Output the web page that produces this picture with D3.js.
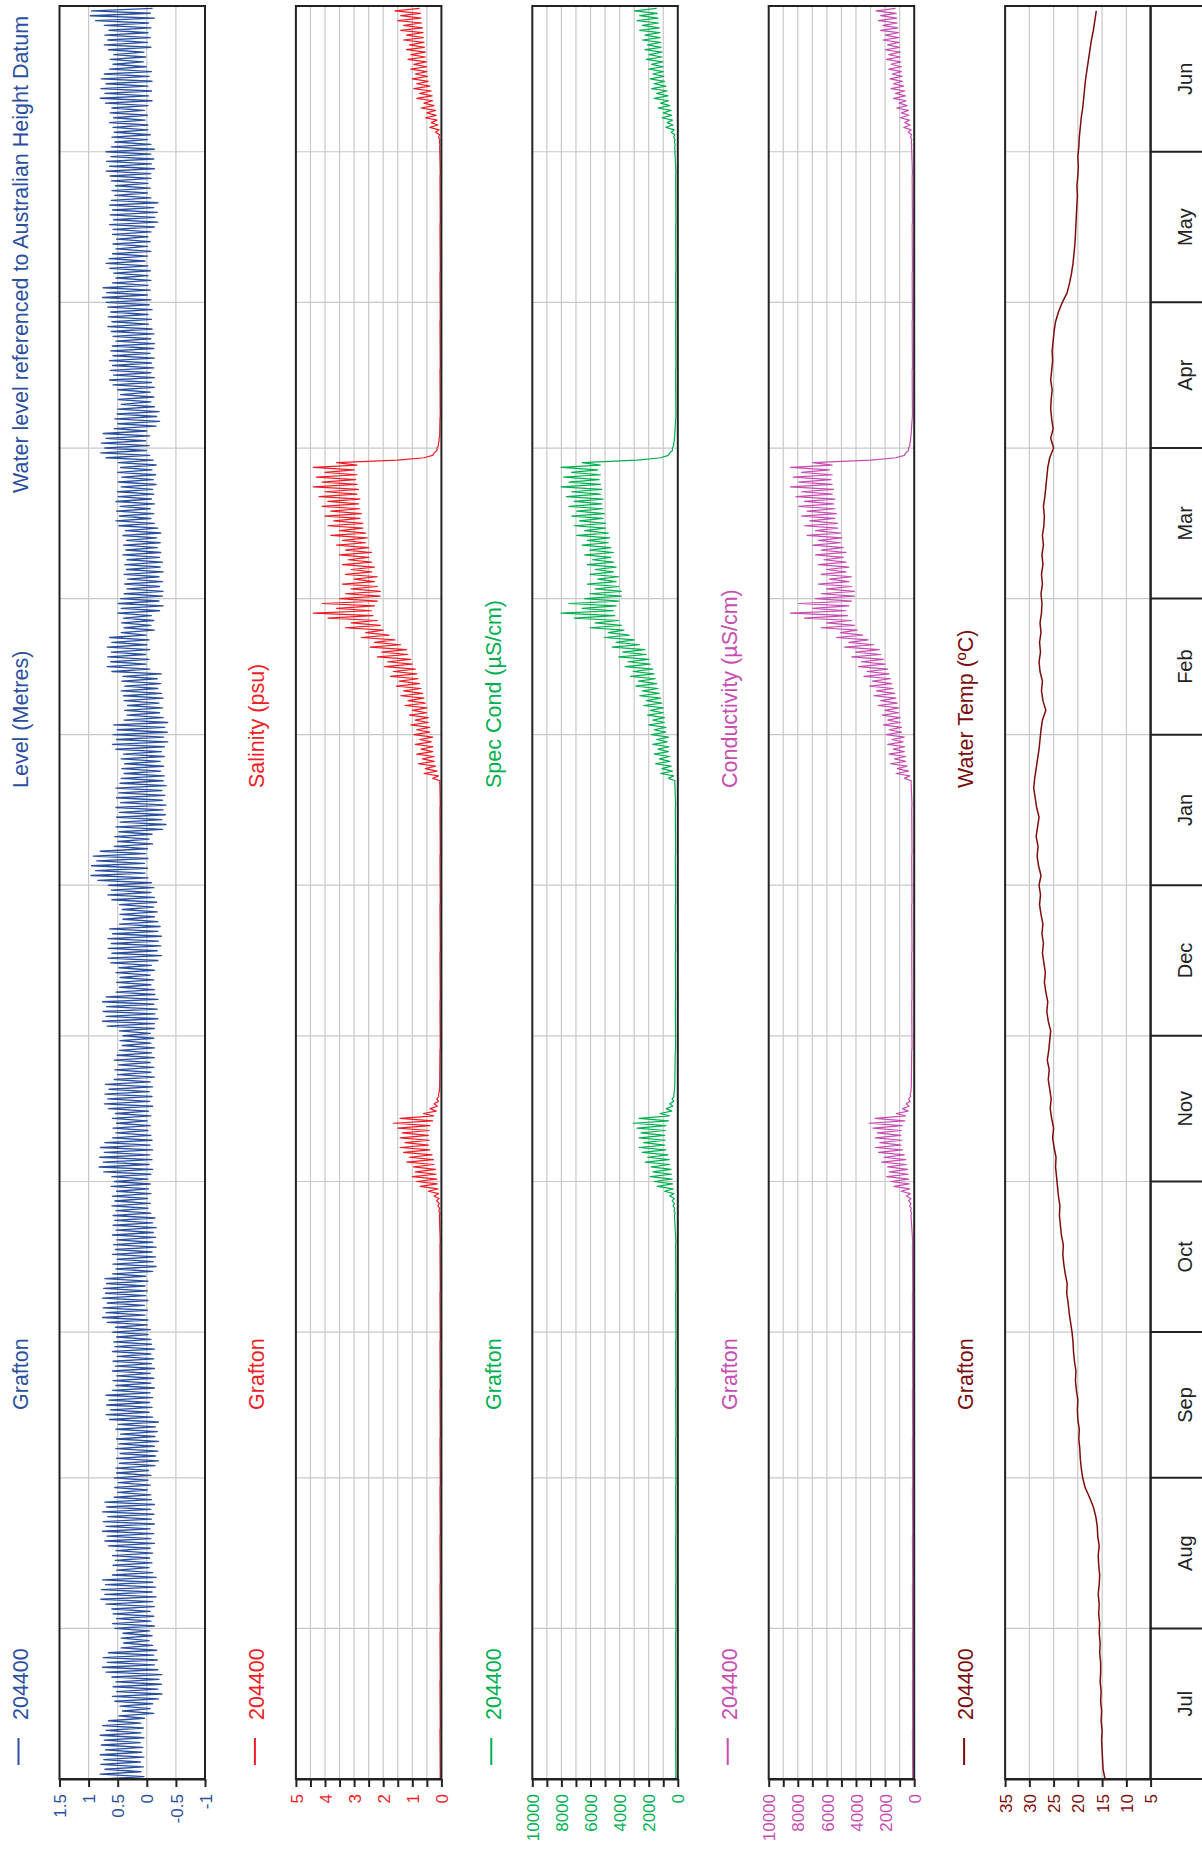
<!DOCTYPE html>
<html><head><meta charset="utf-8">
<script src="https://cdn.jsdelivr.net/npm/d3@7"></script>
<style>
body{margin:0;background:#fff}
svg{display:block}
text{font-family:"Liberation Sans",Arial,Helvetica,sans-serif}
</style>
</head><body>
<svg id="c" width="1202" height="1850"></svg>
<script>
// ---------- DATA ----------
const months = ["Jul","Aug","Sep","Oct","Nov","Dec","Jan","Feb","Mar","Apr","May","Jun"];
const siteCode = "204400";
const siteName = "Grafton";

// Level (m AHD): daily tidal high (at day d) and low (at day d + 0.5), d = 0..364 from 1 Jul
const levelHigh = [
0.76,0.80,0.72,0.79,0.74,0.80,0.71,0.78,0.73,0.80,0.70,0.76,0.66, 0.48,0.42,0.46, 0.55,0.59,0.52,0.58,0.53,0.60,
0.70,0.76,0.68,0.75,0.66, 0.44,0.40,0.44,0.41, 0.55,0.59,0.52,0.58,0.60, 0.70,0.79,0.72,0.78,0.71,0.76,
0.59,0.52,0.58,0.54,0.59,0.53, 0.66,0.72,0.68,0.76,0.70,0.75,0.67,0.76,0.69,0.72, 0.56,0.50,0.55,0.49,0.56,0.52,
0.53,0.47,0.52,0.46,0.53,0.48,0.52,0.45,0.53,0.49, 0.64,0.70,0.63,0.69,0.65,0.70, 0.59,0.53,0.58,0.52,0.59,0.54,0.58,0.51,0.59,0.55,
0.57,0.52,0.59,0.54, 0.68,0.76,0.70,0.75,0.68,0.76,0.71,0.74,0.69,0.72, 0.59,0.53,0.58,0.51,0.59,0.54,0.57,0.52,0.59,0.53,0.58,0.55,
0.58,0.53,0.60,0.55,0.59,0.52,0.61,0.56,0.60, 0.74,0.82,0.75,0.81,0.73,0.80,0.72, 0.59,0.53,0.58,0.52,0.59,0.54,
0.66,0.73,0.67,0.72,0.65,0.71, 0.56,0.50,0.55,0.49,0.56,0.51, 0.47,0.42,0.46,0.41,0.47, 0.68,0.76,0.70,0.75,0.69,0.76,0.70,
0.53,0.47,0.52,0.46,0.53,0.48, 0.62,0.67,0.60,0.66,0.61,0.67,0.59,0.64, 0.47,0.41,0.46,0.42,0.47, 0.60,0.67,0.61,0.66,
0.84,0.96,0.88,0.95,0.86,0.92,0.80, 0.56,0.50,0.55, 0.48,0.53,0.46,0.52,0.47,0.53,0.45,0.52,0.48,0.53,0.46,
0.44,0.39,0.43,0.38,0.44,0.40, 0.53,0.59,0.52,0.58,0.51,0.57, 0.39,0.34,0.38,0.33,0.39, 0.40,0.44,0.38,0.43,0.41,
0.60,0.68,0.62,0.67,0.61,0.68,0.60,0.64, 0.44,0.39,0.43,0.40, 0.50,0.44,0.49,0.45, 0.39,0.34,0.38,0.33,0.39,0.35,0.38,0.34,
0.41,0.36,0.40,0.35,0.41,0.37, 0.48,0.53,0.47,0.52,0.46,0.53,0.49, 0.50,0.44,0.49,0.43,0.50,0.45,0.49,
0.70,0.79,0.72,0.78,0.70,0.75, 0.56,0.50,0.55,0.51, 0.50,0.44,0.49,0.45,0.50, 0.58,0.64,0.57,0.63,0.59,0.64,0.58,0.62,
0.59,0.53,0.58, 0.61,0.67,0.60,0.66,0.62,0.67, 0.70,0.76,0.69,0.75, 0.59,0.53,0.57, 0.64,0.70,0.65, 0.59,0.53,0.58,0.52,0.59,
0.58,0.64,0.57,0.63,0.59,0.64, 0.61,0.55,0.60,0.54,0.61, 0.63,0.70,0.64,0.69,0.62,0.70, 0.61,0.55,0.60,0.56,
0.58,0.64,0.57,0.63,0.60, 0.71,0.80,0.72,0.79,0.70,0.78,0.73, 0.64,0.58,0.63,0.57, 0.66,0.73,0.67,0.72,0.65,0.73, 0.88,0.97,0.95];
const levelLow = [
0.05,0.10,0.06,0.11,0.05,0.09,0.07,0.11,0.05,0.10,0.06,0.10,0.04, -0.12,-0.06,-0.10, -0.20,-0.26,-0.19,-0.25,-0.21,-0.26,
-0.19,-0.13,-0.18,-0.12,-0.17, -0.10,-0.04,-0.09,-0.05, -0.13,-0.07,-0.12,-0.06,-0.13, -0.10,-0.16,-0.09,-0.15,-0.10,-0.16,
-0.10,-0.04,-0.09,-0.05,-0.10,-0.06, -0.13,-0.07,-0.12,-0.06,-0.13,-0.08,-0.12,-0.07,-0.13,-0.08, -0.07,-0.01,-0.06,-0.02,-0.07,-0.03,
-0.14,-0.20,-0.15,-0.19,-0.13,-0.20,-0.14,-0.18,-0.15,-0.20, -0.10,-0.04,-0.09,-0.05,-0.10,-0.06, -0.13,-0.07,-0.12,-0.06,-0.13,-0.08,-0.12,-0.07,-0.13,-0.08,
-0.07,-0.02,-0.06,-0.01, -0.02,0.03,-0.01,0.04,-0.02,0.02,-0.01,0.03,-0.02,0.02, -0.10,-0.16,-0.11,-0.15,-0.09,-0.16,-0.10,-0.15,-0.11,-0.16,-0.10,-0.14,
-0.07,-0.02,-0.06,-0.01,-0.07,-0.03,-0.06,-0.02,-0.07, -0.10,-0.04,-0.09,-0.05,-0.10,-0.06,-0.09, -0.07,-0.02,-0.06,-0.01,-0.07,-0.03,
-0.10,-0.05,-0.09,-0.04,-0.10,-0.06, -0.13,-0.07,-0.12,-0.06,-0.13,-0.08, -0.13,-0.07,-0.12,-0.06,-0.13, -0.13,-0.19,-0.14,-0.18,-0.12,-0.19,-0.14,
-0.13,-0.07,-0.12,-0.06,-0.13,-0.08, -0.19,-0.25,-0.18,-0.24,-0.20,-0.25,-0.19,-0.23, -0.19,-0.13,-0.18,-0.12,-0.17, -0.13,-0.07,-0.12,-0.08,
-0.02,0.03,-0.01,0.04,-0.02,0.02,-0.01, -0.10,-0.04,-0.09, -0.27,-0.33,-0.26,-0.32,-0.28,-0.33,-0.27,-0.31,-0.26,-0.33,-0.28,
-0.30,-0.24,-0.29,-0.23,-0.30,-0.25, -0.30,-0.36,-0.29,-0.35,-0.31,-0.36, -0.28,-0.22,-0.27,-0.21,-0.28, -0.25,-0.19,-0.24,-0.18,-0.25,
-0.05,0.01,-0.04,0.02,-0.05,0.00,-0.04,0.01, -0.13,-0.07,-0.12,-0.08, -0.22,-0.28,-0.21,-0.27, -0.28,-0.22,-0.27,-0.21,-0.28,-0.23,-0.27,-0.22,
-0.24,-0.18,-0.23,-0.17,-0.24,-0.19, -0.13,-0.07,-0.12,-0.06,-0.13,-0.08,-0.12, -0.10,-0.16,-0.11,-0.15,-0.09,-0.16,-0.11,
-0.05,0.01,-0.04,0.02,-0.05,0.00, -0.16,-0.22,-0.17,-0.21, -0.13,-0.07,-0.12,-0.06,-0.13, -0.08,-0.13,-0.07,-0.12,-0.08,-0.13,-0.06,-0.12,
-0.13,-0.07,-0.12, -0.09,-0.03,-0.08,-0.02,-0.09,-0.04, -0.07,-0.01,-0.06,-0.02, -0.07,-0.02,-0.06, -0.02,0.03,-0.01, -0.07,-0.01,-0.06,-0.02,-0.07,
-0.13,-0.19,-0.14,-0.18,-0.12,-0.19, -0.07,-0.01,-0.06,-0.02,-0.07, -0.07,-0.13,-0.08,-0.12,-0.07,-0.13, -0.07,-0.01,-0.06,-0.02,
-0.02,0.03,-0.01,0.04,-0.02, -0.09,-0.03,-0.08,-0.02,-0.09,-0.04,-0.08, 0.01,0.06,0.02,0.05, -0.07,-0.01,-0.06,-0.02,-0.07,-0.03, -0.13,-0.06,-0.10];

// Water-quality sample days (since 1 Jul): high at day d, low at d + 0.5
const chemDays = [0,10,20,30,40,50,60,70,80,90,100,110,
116,117,118,119,120,121,122,123,124,125,126,127,128,129,130,131,132,133,134,135,136,137,138,139,140,141,142,
150,160,170,180,190,200,
204,205,206,207,208,209,210,211,212,213,214,215,216,217,218,219,220,221,222,223,224,225,226,227,228,229,
230,231,232,233,234,235,236,237,238,239,240,241,242,243,244,245,246,247,248,249,250,251,252,253,254,255,
256,257,258,259,260,261,262,263,264,265,266,267,268,269,270,271,272,273,274,275,276,
280,290,300,310,320,330,
336,337,338,339,340,341,342,343,344,345,346,347,348,349,350,351,352,353,354,355,356,357,358,359,360,361,362,363,364];

const salinityHigh = [0.05,0.05,0.05,0.05,0.05,0.05,0.05,0.05,0.05,0.05,0.05,0.05,
0.07,0.09,0.12,0.16,0.25,0.45,0.73,0.85,1.00,0.90,0.96,1.19,1.10,1.30,1.42,1.25,1.42,1.35,1.50,1.65,1.42,0.62,0.39,0.25,0.16,0.10,0.07,
0.05,0.05,0.05,0.05,0.05,0.05,
0.05,0.06,0.30,0.60,0.55,0.80,0.65,0.85,0.70,0.90,0.75,0.95,0.85,1.05,0.90,1.10,1.00,1.25,1.15,1.40,1.30,1.55,1.45,1.75,1.65,1.95,
1.85,2.20,2.05,2.45,2.30,2.75,2.60,3.30,3.10,3.90,4.40,3.60,4.10,3.50,3.30,3.10,3.40,3.00,3.30,3.10,3.40,3.20,3.50,3.30,3.60,3.40,
3.80,3.50,3.90,3.70,4.00,3.80,4.10,3.90,4.20,4.00,4.40,4.10,4.30,4.00,4.40,3.60,0.60,0.25,0.15,0.10,0.08,
0.05,0.05,0.05,0.05,0.05,0.05,
0.06,0.07,0.10,0.20,0.40,0.35,0.55,0.50,0.70,0.60,0.85,0.75,0.95,0.85,1.00,0.90,1.05,0.95,1.15,1.05,1.20,1.10,1.30,1.20,1.40,1.30,1.50,1.40,1.60];
const salinityLow = [0.04,0.04,0.04,0.04,0.04,0.04,0.04,0.04,0.04,0.04,0.04,0.04,
0.05,0.06,0.07,0.08,0.10,0.12,0.14,0.16,0.18,0.20,0.25,0.27,0.32,0.40,0.45,0.42,0.45,0.42,0.40,0.30,0.27,0.18,0.14,0.10,0.09,0.07,0.06,
0.04,0.04,0.04,0.04,0.04,0.04,
0.05,0.05,0.10,0.15,0.20,0.25,0.25,0.30,0.28,0.35,0.30,0.40,0.40,0.45,0.45,0.50,0.50,0.55,0.60,0.65,0.70,0.75,0.80,0.85,0.90,1.00,
1.05,1.15,1.20,1.40,1.60,1.80,2.00,2.10,2.20,2.35,2.40,2.30,2.20,2.10,2.10,2.20,2.30,2.20,2.40,2.30,2.40,2.50,2.40,2.50,2.60,2.55,
2.60,2.70,2.70,2.80,2.75,2.80,2.85,2.80,2.90,2.85,2.90,2.95,2.90,3.00,2.90,1.50,0.30,0.15,0.10,0.08,0.06,
0.04,0.04,0.04,0.04,0.04,0.04,
0.05,0.05,0.06,0.08,0.12,0.15,0.18,0.20,0.25,0.30,0.32,0.35,0.40,0.45,0.48,0.50,0.50,0.52,0.55,0.55,0.58,0.60,0.62,0.63,0.65,0.68,0.70,0.72,0.75];

const specCondHigh = [150,150,150,150,150,150,150,150,150,150,150,150,
230,260,320,390,550,910,1410,1630,1900,1720,1830,2240,2080,2440,2660,2350,2660,2530,2800,3070,2660,1220,800,550,390,280,230,
170,170,170,170,170,170,
190,210,640,1180,1090,1540,1270,1630,1360,1720,1450,1810,1630,1990,1720,2080,1900,2350,2170,2620,2440,2890,2710,3250,3070,3610,
3430,4060,3790,4510,4240,5050,4780,6040,5680,7120,8020,6580,7480,6400,6040,5680,6220,5500,6040,5680,6220,5860,6400,6040,6580,6220,
6940,6400,7120,6760,7300,6940,7480,7120,7660,7300,8020,7480,7840,7300,8020,6580,1180,550,370,280,240,
150,150,150,150,150,150,
210,230,280,460,820,730,1090,1000,1360,1180,1630,1450,1810,1630,1900,1720,1990,1810,2170,1990,2260,2080,2440,2260,2620,2440,2800,2620,2980];
const specCondLow = [130,130,130,130,130,130,130,130,130,130,130,130,
190,210,230,240,280,320,350,390,420,460,550,590,680,820,910,860,910,860,820,640,590,420,350,280,260,230,210,
150,150,150,150,150,150,
190,190,280,370,460,550,550,640,600,730,640,820,820,910,910,1000,1000,1090,1180,1270,1360,1450,1540,1630,1720,1900,
1990,2170,2260,2620,2980,3340,3700,3880,4060,4330,4420,4240,4060,3880,3880,4060,4240,4060,4420,4240,4420,4600,4420,4600,4780,4690,
4780,4960,4960,5140,5050,5140,5230,5140,5320,5230,5320,5410,5320,5500,5320,2800,640,370,280,240,210,
130,130,130,130,130,130,
190,190,210,240,320,370,420,460,550,640,680,730,820,910,960,1000,1000,1040,1090,1090,1140,1180,1220,1230,1270,1320,1360,1400,1450];

const condHigh = [120,120,120,120,120,120,120,120,120,120,120,120,
220,250,310,380,540,900,1400,1620,1890,1710,1820,2230,2080,2450,2670,2360,2680,2550,2820,3100,2690,1230,800,550,390,280,220,
170,170,170,170,170,170,
200,220,680,1250,1160,1630,1350,1730,1440,1820,1540,1920,1730,2110,1820,2200,2010,2490,2300,2780,2590,3060,2870,3450,3250,3830,
3640,4300,4020,4780,4490,5350,5070,6400,6020,7550,8500,6970,7930,6780,6400,6020,6590,5830,6400,6020,6590,6210,6780,6400,6970,6590,
7360,6780,7550,7170,7740,7360,7930,7550,8120,7740,8500,7930,8310,7740,8500,6970,1250,580,390,300,250,
140,140,140,140,140,140,
180,200,250,400,720,640,960,880,1200,1040,1430,1280,1590,1430,1670,1510,1750,1590,1910,1750,1990,1830,2150,1990,2310,2150,2460,2310,2620];
const condLow = [100,100,100,100,100,100,100,100,100,100,100,100,
180,200,220,230,270,310,340,380,410,450,540,590,680,820,910,860,920,870,830,650,600,420,350,280,250,220,200,
150,150,150,150,150,150,
200,200,300,390,490,580,580,680,640,770,680,870,870,960,960,1060,1060,1160,1250,1350,1440,1540,1630,1730,1820,2010,
2110,2300,2400,2780,3160,3540,3920,4110,4300,4590,4690,4490,4300,4110,4110,4300,4490,4300,4690,4490,4690,4880,4690,4880,5070,4970,
5070,5260,5260,5450,5350,5450,5540,5450,5640,5540,5640,5730,5640,5830,5640,2970,680,390,300,250,220,
120,120,120,120,120,120,
170,170,180,210,280,330,370,400,480,560,600,640,720,800,840,880,880,920,960,960,1000,1040,1070,1080,1120,1160,1200,1230,1280];

// Water temperature (deg C), every 2 days from 1 Jul
const tempValues = [
14.4,14.8,14.9,15.0,15.1,15.0,15.2,15.1,15.3,15.2,15.4,15.3,15.3,15.5,15.4,15.6,
15.5,15.7,15.6,15.8,15.6,15.5,15.7,15.8,15.6,15.9,16.0,16.3,16.8,17.6,18.5,
19.0,19.3,19.5,19.6,19.8,19.7,20.0,20.1,20.0,20.3,20.5,20.4,20.7,20.9,21.0,
21.2,21.5,21.8,22.0,22.3,22.2,22.6,22.9,23.1,23.0,23.4,23.6,23.8,23.7,24.0,24.2,
24.4,24.6,24.5,24.9,25.2,25.0,25.4,25.7,25.5,25.8,26.1,25.9,26.3,26.0,25.8,
25.6,26.1,26.4,26.2,26.6,26.9,26.7,27.0,27.3,27.1,27.4,27.2,27.6,27.9,27.7,
28.0,27.6,28.1,28.4,28.2,28.6,28.3,28.0,28.5,28.8,29.1,28.9,28.6,28.3,28.0,27.8,
27.6,27.3,26.6,27.2,27.5,27.3,27.8,28.0,27.7,27.9,27.6,27.8,27.5,27.4,
27.6,27.3,27.5,27.2,27.4,27.1,27.3,27.0,26.9,27.1,26.8,26.6,26.4,26.2,25.8,
25.0,25.6,25.1,25.4,25.6,25.5,25.3,25.6,25.4,25.2,25.3,25.1,24.9,24.6,24.0,
23.2,22.2,21.7,21.3,21.0,20.8,20.6,20.5,20.4,20.3,20.2,20.1,20.2,20.0,19.9,20.0,
19.8,19.7,19.5,19.3,19.0,18.8,18.6,18.4,18.1,17.8,17.5,17.2,16.8,16.5,16.2];

const levelTicks = [1.5,1,0.5,0,-0.5,-1];
const levelTickLabels = ["1.5","1","0.5","0","-0.5","-1"];
const salinityTicks = [5,4.5,4,3.5,3,2.5,2,1.5,1,0.5,0];
const salinityTickLabels = ["5","","4","","3","","2","","1","","0"];
const condTicks = [10000,9000,8000,7000,6000,5000,4000,3000,2000,1000,0];
const condTickLabels = ["10000","","8000","","6000","","4000","","2000","","0"];
const tempTicks = [35,30,25,20,15,10,5];
const tempTickLabels = ["35","30","25","20","15","10","5"];

// ---------- CHART ----------
const svg = d3.select("#c");
const TOP = 6, BOTTOM = 1779, PW = 145.5;
const t0 = Date.UTC(2018,6,1), t1 = Date.UTC(2019,6,1);
const y = d3.scaleUtc().domain([new Date(t0), new Date(t1)]).range([BOTTOM, TOP]);
const dayDate = d => new Date(t0 + d*864e5);
const monthStarts = d3.utcMonth.range(new Date(t0), new Date(t1));
const bounds = monthStarts.concat([new Date(t1)]);
const gridCol = "#c9c9c9", axCol = "#222";

function zig(days, hi, lo, off){
  const pts = [];
  hi.forEach((h,i)=>{ pts.push([days[i], h]); if(i < lo.length) pts.push([days[i]+off, lo[i]]); });
  return pts;
}
const levelDays = levelHigh.map((_,i)=>i);
const tempDays = tempValues.map((_,i)=>2*i);

const panels = [
 {left:59.5, color:"#2a4f9f", domain:[1.5,-1], ticks:levelTicks, labels:levelTickLabels,
  name:"Level (Metres)", extra:"Water level referenced to Australian Height Datum",
  pts: zig(levelDays, levelHigh, levelLow, 0.5), lw:1.35},
 {left:295.9, color:"#ee1c25", domain:[5,0], ticks:salinityTicks, labels:salinityTickLabels,
  name:"Salinity (psu)", pts: zig(chemDays, salinityHigh, salinityLow, 0.5), lw:1.2},
 {left:532.3, color:"#00b04f", domain:[10000,0], ticks:condTicks, labels:condTickLabels,
  name:"Spec Cond (\u00b5S/cm)", pts: zig(chemDays, specCondHigh, specCondLow, 0.5), lw:1.2},
 {left:768.7, color:"#c64db2", domain:[10000,0], ticks:condTicks, labels:condTickLabels,
  name:"Conductivity (\u00b5S/cm)", pts: zig(chemDays, condHigh, condLow, 0.5), lw:1.2},
 {left:1005.1, color:"#7b0d0d", domain:[35,5], ticks:tempTicks, labels:tempTickLabels,
  name:"Water Temp (\u00baC)", pts: tempDays.map((d,i)=>[d,tempValues[i]]), lw:1.5}
];

const defs = svg.append("defs");

panels.forEach((p,pi)=>{
  const x = d3.scaleLinear().domain(p.domain).range([p.left, p.left+PW]);
  const g = svg.append("g");
  g.selectAll(".vg").data(p.ticks.filter(t=>t!==p.domain[0] && t!==p.domain[1])).enter().append("line")
    .attr("x1",d=>x(d)).attr("x2",d=>x(d)).attr("y1",TOP).attr("y2",BOTTOM)
    .attr("stroke",gridCol).attr("stroke-width",1.2);
  g.selectAll(".mg").data(monthStarts.slice(1)).enter().append("line")
    .attr("x1",p.left).attr("x2",p.left+PW).attr("y1",d=>y(d)).attr("y2",d=>y(d))
    .attr("stroke",gridCol).attr("stroke-width",1.2);
  defs.append("clipPath").attr("id","clip"+pi).append("rect")
    .attr("x",p.left).attr("y",TOP).attr("width",PW).attr("height",BOTTOM-TOP);
  const line = d3.line().x(d=>x(d[1])).y(d=>y(dayDate(d[0])));
  g.append("path").attr("clip-path","url(#clip"+pi+")").attr("d",line(p.pts))
    .attr("fill","none").attr("stroke",p.color).attr("stroke-width",p.lw).attr("stroke-linejoin","round");
  g.append("rect").attr("x",p.left).attr("y",TOP).attr("width",PW).attr("height",BOTTOM-TOP)
    .attr("fill","none").attr("stroke",axCol).attr("stroke-width",2);
  const ax = d3.axisBottom(x).tickValues(p.ticks).tickSize(8).tickSizeOuter(0)
    .tickFormat((d,i)=>p.labels[i]);
  const axg = svg.append("g").attr("transform",`translate(0,${BOTTOM})`).call(ax);
  axg.select(".domain").attr("stroke",axCol).attr("stroke-width",2);
  axg.selectAll(".tick line").attr("stroke",axCol).attr("stroke-width",2);
  axg.selectAll(".tick text").attr("fill",p.color).attr("font-size",17)
    .attr("font-family","'Liberation Sans',Arial,sans-serif")
    .attr("transform","rotate(-90)").attr("text-anchor","end")
    .attr("x",-15).attr("y",0).attr("dy","0.36em");
  const lx = p.left - 39.5;
  const lab = (txt, ys) => svg.append("text").attr("transform",`translate(${lx},${ys}) rotate(-90)`)
    .attr("dy","0.36em").attr("fill",p.color).attr("font-size",21.5).text(txt);
  svg.append("line").attr("x1",lx-1.5).attr("x2",lx-1.5).attr("y1",1738).attr("y2",1765)
    .attr("stroke",p.color).attr("stroke-width",2);
  lab(siteCode, 1720);
  lab(siteName, 1410);
  lab(p.name, 788);
  if(p.extra) lab(p.extra, 493);
});

const mx0 = 1005.1 + PW, mx1 = 1202;
svg.selectAll(".mb").data(bounds).enter().append("line")
  .attr("x1",mx0).attr("x2",mx1).attr("y1",d=>y(d)).attr("y2",d=>y(d))
  .attr("stroke",axCol).attr("stroke-width",2);
svg.append("line").attr("x1",mx0).attr("x2",mx0).attr("y1",TOP).attr("y2",BOTTOM)
  .attr("stroke",axCol).attr("stroke-width",2);
svg.selectAll(".ml").data(monthStarts).enter().append("text")
  .attr("transform",(d,i)=>`translate(1185,${(y(d)+y(bounds[i+1]))/2}) rotate(-90)`)
  .attr("text-anchor","middle").attr("dy","0.36em").attr("font-size",20).attr("fill","#222")
  .text((d,i)=>months[i]);
</script>
</body></html>
